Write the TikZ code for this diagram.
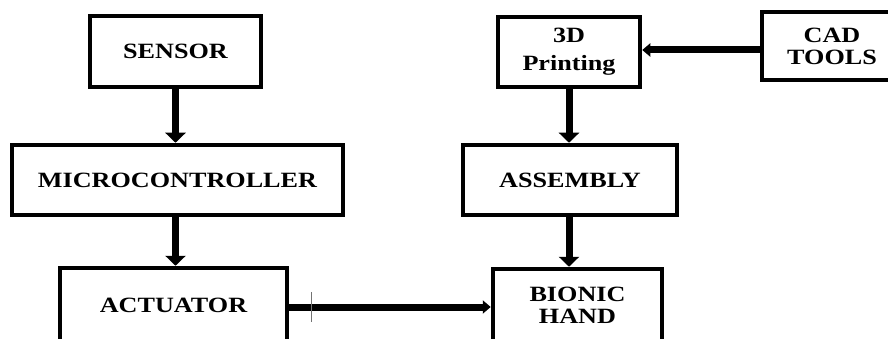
\documentclass[tikz,border=0pt]{standalone}
\usepackage{fontspec}
\setmainfont{Liberation Serif}[FakeStretch=1.2]
\usetikzlibrary{arrows.meta,positioning,calc}

\begin{document}
\begin{tikzpicture}[x=1pt, y=-1pt,
    block/.style={rectangle, draw=black, line width=4.5pt, fill=white,
        inner sep=0pt, align=center,
        font=\fontsize{21.8}{22}\selectfont\bfseries},
    flow/.style={-{Triangle[length=10pt, width=20pt]}, line width=7pt, black},
    flowthin/.style={-{Triangle[length=8pt, width=13pt]}, line width=7pt, black},
    tickmark/.style={line width=1.5pt, black!55}
]
    \useasboundingbox (0,0) rectangle (888,339);
    \clip (0,0) rectangle (888,339);
    \fill[white] (0,0) rectangle (888,339);

    % left column
    \node[block, minimum width=171pt, minimum height=71pt] (sensor) at (175.5,51.5) {SENSOR};
    \node[block, minimum width=331pt, minimum height=70pt] (mcu) at (177.5,180) {MICROCONTROLLER};
    \node[block, minimum width=227pt, minimum height=74pt] (act) at (173.5,305) {ACTUATOR};

    % right column
    \node[block, minimum width=142pt, minimum height=70pt, font=\fontsize{21.8}{28}\selectfont\bfseries] (print) at (569,52) {3D\\Printing};
    \node[block, minimum width=140pt, minimum height=68pt] (cad) at (832,46) {CAD\\TOOLS};
    \node[block, minimum width=214pt, minimum height=70pt] (asm) at (570,180) {ASSEMBLY};
    \node[block, minimum width=169pt, minimum height=72pt] (hand) at (577.5,305) {BIONIC\\HAND};

    \draw[flow] (sensor.south) -- (sensor.south |- mcu.north);
    \draw[flow] (sensor.south |- mcu.south) -- (sensor.south |- act.north);
    \draw[flowthin] (cad.west |- 0,50) -- (print.east |- 0,50);
    \draw[flow] (print.south) -- (print.south |- asm.north);
    \draw[flow] (print.south |- asm.south) -- (print.south |- hand.north);
    \draw[flowthin] (act.east |- 0,307) -- coordinate[pos=0.11] (t) (hand.west |- 0,307);
    \draw[tickmark] (t) ++(0,-15) -- ++(0,30);
\end{tikzpicture}
\end{document}
